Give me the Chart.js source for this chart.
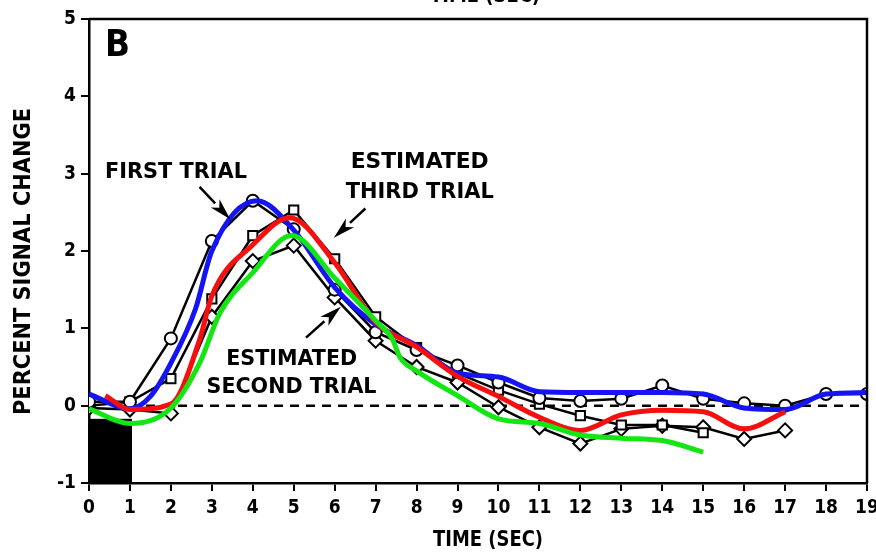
<!DOCTYPE html>
<html>
<head>
<meta charset="utf-8">
<script src="https://cdn.jsdelivr.net/npm/chart.js@4.4.1/dist/chart.umd.min.js"></script>
<style>
  html, body { margin: 0; padding: 0; background: #fff; }
  #wrap { width: 876px; height: 554px; }
</style>
</head>
<body>
<div id="wrap"><canvas id="chart" width="876" height="554"></canvas></div>
<script>
// time axis in seconds for the sampled trials
const seconds = [0, 1, 2, 3, 4, 5, 6, 7, 8, 9, 10, 11, 12, 13, 14, 15, 16, 17, 18, 19];

// percent signal change, sampled once a second
const firstTrial  = [0.05, 0.05, 0.87, 2.13, 2.65, 2.28, 1.5, 0.95, 0.72, 0.52, 0.3, 0.1, 0.06, 0.09, 0.26, 0.09, 0.03, 0.0, 0.15, 0.15];
const secondTrial = [-0.03, -0.05, -0.1, 1.15, 1.87, 2.07, 1.4, 0.84, 0.5, 0.3, -0.02, -0.28, -0.49, -0.3, -0.26, -0.28, -0.43, -0.32];
const thirdTrial  = [0.0, 0.05, 0.35, 1.38, 2.2, 2.53, 1.9, 1.15, 0.75, 0.42, 0.2, 0.02, -0.13, -0.25, -0.25, -0.35];

// smooth fitted curves
const blueTime  = [0, 1, 1.5, 2, 2.6, 3, 4.1, 5, 6, 7, 8, 9, 10, 11, 12, 13, 14, 15, 16, 17, 18, 19];
const blueFit   = [0.15, -0.04, 0.12, 0.55, 1.25, 2.0, 2.65, 2.27, 1.53, 1.05, 0.78, 0.42, 0.37, 0.18, 0.17, 0.17, 0.17, 0.15, -0.03, -0.05, 0.15, 0.17];
const redTime   = [0.4, 1, 2, 2.7, 3, 4, 4.9, 6, 7, 8, 9, 10, 11, 12, 13, 14, 15, 16, 17];
const redFit    = [0.13, -0.05, 0.02, 0.85, 1.42, 2.08, 2.43, 1.85, 1.08, 0.76, 0.38, 0.12, -0.15, -0.32, -0.12, -0.06, -0.08, -0.3, -0.08];
const greenTime = [0, 1, 2, 2.7, 3.2, 4, 4.95, 6, 7, 7.4, 7.6, 8, 9, 10, 11, 12, 13, 14, 15];
const greenFit  = [-0.04, -0.23, -0.03, 0.55, 1.2, 1.72, 2.2, 1.65, 1.1, 0.87, 0.62, 0.45, 0.13, -0.17, -0.23, -0.38, -0.42, -0.45, -0.6];

// baseline and stimulus period
const baselineSpan = [1, 19];
const stimulus = { from: 0, to: 1.05, bottom: -1, top: -0.17 };

const pts = (xs, ys) => ys.map((y, i) => ({ x: xs[i], y: y }));

const FONT = '"DejaVu Sans", "Liberation Sans", sans-serif';
const TICK_FONT = '"DejaVu Sans Condensed", "DejaVu Sans", sans-serif';

// labels and arrows, placed in data units
const notes = [
  { text: 'B', x: 0.39, y: 4.65, w: 25, size: 38 },
  { text: 'FIRST TRIAL', x: 0.39, y: 3.02, w: 142, size: 21 },
  { text: 'ESTIMATED', x: 6.39, y: 3.14, w: 138, size: 21 },
  { text: 'THIRD TRIAL', x: 6.27, y: 2.76, w: 148, size: 21 },
  { text: 'ESTIMATED', x: 3.35, y: 0.59, w: 131, size: 21 },
  { text: 'SECOND TRIAL', x: 2.87, y: 0.24, w: 170, size: 21 }
];
const arrows = [
  { from: [2.70, 2.83], to: [3.45, 2.41] },
  { from: [6.75, 2.55], to: [5.98, 2.17] },
  { from: [5.30, 0.88], to: [6.15, 1.28] }
];

function fitText(ctx, str, x, y, w, size, font) {
  ctx.save();
  ctx.font = 'bold ' + size + 'px ' + (font || FONT);
  ctx.textBaseline = 'middle';
  ctx.textAlign = 'left';
  const m = ctx.measureText(str).width;
  ctx.translate(x, y);
  ctx.scale(w / m, 1);
  ctx.fillStyle = '#000';
  ctx.fillText(str, 0, 0);
  ctx.restore();
}

const stimulusBox = {
  id: 'stimulusBox',
  beforeDatasetsDraw(chart) {
    const { ctx, scales: { x, y } } = chart;
    const l = x.getPixelForValue(stimulus.from), r = x.getPixelForValue(stimulus.to);
    const t = y.getPixelForValue(stimulus.top), b = y.getPixelForValue(stimulus.bottom);
    ctx.save();
    ctx.fillStyle = '#000';
    ctx.fillRect(l, t, r - l, b - t);
    ctx.restore();
  }
};

const decorations = {
  id: 'decorations',
  afterDatasetsDraw(chart) {
    const { ctx, chartArea: a, scales: { x, y } } = chart;
    ctx.save();
    // frame
    ctx.strokeStyle = '#000';
    ctx.lineWidth = 2.5;
    ctx.beginPath();
    ctx.moveTo(a.left, a.top);
    ctx.lineTo(a.right, a.top);
    ctx.lineTo(a.right, a.bottom);
    ctx.stroke();

    notes.forEach(n => fitText(ctx, n.text, x.getPixelForValue(n.x), y.getPixelForValue(n.y), n.w, n.size));

    arrows.forEach(ar => {
      const x0 = x.getPixelForValue(ar.from[0]), y0 = y.getPixelForValue(ar.from[1]);
      const x1 = x.getPixelForValue(ar.to[0]), y1 = y.getPixelForValue(ar.to[1]);
      const ang = Math.atan2(y1 - y0, x1 - x0);
      const hl = 22, hw = 6;
      const bx = x1 - hl * Math.cos(ang), by = y1 - hl * Math.sin(ang);
      ctx.lineWidth = 2.5;
      ctx.beginPath();
      ctx.moveTo(x0, y0);
      ctx.lineTo(bx, by);
      ctx.stroke();
      ctx.fillStyle = '#000';
      ctx.beginPath();
      ctx.moveTo(x1, y1);
      ctx.lineTo(bx + hw * Math.sin(ang), by - hw * Math.cos(ang));
      ctx.lineTo(bx + 6 * Math.cos(ang), by + 6 * Math.sin(ang));
      ctx.lineTo(bx - hw * Math.sin(ang), by + hw * Math.cos(ang));
      ctx.closePath();
      ctx.fill();
    });

    // axis titles
    ctx.save();
    ctx.translate(24, 262);
    ctx.rotate(-Math.PI / 2);
    fitText(ctx, 'PERCENT SIGNAL CHANGE', -153, 0, 307, 23, TICK_FONT);
    ctx.restore();
    fitText(ctx, 'TIME (SEC)', 433, 540, 110, 22, TICK_FONT);
    // title of the panel above, cut off by the top edge
    fitText(ctx, 'TIME (SEC)', 430, -4, 110, 22, TICK_FONT);
    ctx.restore();
  }
};

const black = {
  borderColor: '#000',
  borderWidth: 2.5,
  pointRadius: 6,
  pointBackgroundColor: '#fff',
  pointBorderColor: '#000',
  pointBorderWidth: 2,
  tension: 0,
  fill: false
};
const smooth = { borderWidth: 5, pointRadius: 0, cubicInterpolationMode: 'monotone', fill: false };

new Chart(document.getElementById('chart').getContext('2d'), {
  type: 'line',
  data: {
    datasets: [
      { label: 'green fit', data: pts(greenTime, greenFit), borderColor: '#14e614', ...smooth },
      { label: 'red fit', data: pts(redTime, redFit), borderColor: '#f50f0f', ...smooth },
      { label: 'blue fit', data: pts(blueTime, blueFit), borderColor: '#1414f5', ...smooth },
      { label: 'First trial', data: pts(seconds, firstTrial), pointStyle: 'circle', ...black },
      { label: 'Estimated third trial', data: pts(seconds, thirdTrial), pointStyle: 'rect', ...black, pointRadius: 6.5 },
      { label: 'Estimated second trial', data: pts(seconds, secondTrial), pointStyle: 'rectRot', ...black, pointRadius: 7 },
      { label: 'baseline', data: baselineSpan.map(t => ({ x: t, y: 0 })), borderColor: '#000', borderWidth: 2.5, borderDash: [9, 7], pointRadius: 0 }
    ]
  },
  options: {
    responsive: false,
    animation: false,
    devicePixelRatio: 1,
    layout: { padding: { top: 19, right: 5, left: 0, bottom: 0 } },
    plugins: { legend: { display: false }, tooltip: { enabled: false } },
    scales: {
      x: {
        type: 'linear', min: 0, max: 19,
        ticks: { stepSize: 1, color: '#000', font: { family: TICK_FONT, size: 19, weight: 'bold' }, padding: 6, maxRotation: 0 },
        grid: { drawOnChartArea: false, drawTicks: true, tickLength: 8, color: '#000', lineWidth: 2 },
        border: { color: '#000', width: 2.5 },
        afterFit(scale) { scale.height = 71; scale.paddingLeft = 0; scale.paddingRight = 0; }
      },
      y: {
        min: -1, max: 5,
        ticks: { stepSize: 1, color: '#000', font: { family: TICK_FONT, size: 19, weight: 'bold' }, padding: 5 },
        grid: { drawOnChartArea: false, drawTicks: true, tickLength: 8, color: '#000', lineWidth: 2 },
        border: { color: '#000', width: 2.5 },
        afterFit(scale) { scale.width = 89; scale.paddingTop = 0; scale.paddingBottom = 0; }
      }
    }
  },
  plugins: [stimulusBox, decorations]
});
</script>
</body>
</html>
